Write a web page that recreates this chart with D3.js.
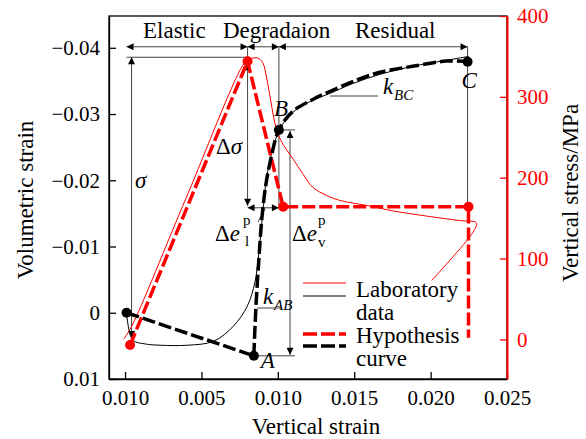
<!DOCTYPE html>
<html>
<head>
<meta charset="utf-8">
<script src="https://cdn.jsdelivr.net/npm/d3@7"></script>
<style>
  body { margin: 0; background: #fff; }
</style>
</head>
<body>
<div id="container"></div>
<script>
// tick values and labels (the first strain label is printed as 0.010 in the original)
const strainTicks = [0, 0.005, 0.010, 0.015, 0.020, 0.025];
const strainTickLabels = ["0.010", "0.005", "0.010", "0.015", "0.020", "0.025"];
const volTicks = [-0.04, -0.03, -0.02, -0.01, 0, 0.01];
const volTickLabels = ["\u22120.04", "\u22120.03", "\u22120.02", "\u22120.01", "0", "0.01"];
const stressTicks = [0, 100, 200, 300, 400];
const phaseNames = ["Elastic", "Degradaion", "Residual"];

// hypothesis curve, volumetric strain (start, A, ..., B, ..., C)
const hypVolStrain = [0.0001, 0.00843, 0.00856, 0.00876, 0.00895, 0.00922, 0.00954, 0.01007,
  0.01098, 0.01229, 0.0134, 0.0149, 0.01667, 0.01882, 0.02105, 0.02242];
const hypVolValue = [0, 0.0065, -0.0006, -0.0081, -0.0141, -0.0194, -0.0232, -0.0276,
  -0.0304, -0.0322, -0.0334, -0.0349, -0.0363, -0.0372, -0.038, -0.0379];
const hypVolDots = [0, 1, 7, 15]; // start, A, B, C

// laboratory data, volumetric strain
const labVolStrain = [0.0001, 0.0005, 0.0013, 0.0023, 0.0041, 0.0058, 0.0071, 0.008, 0.0085,
  0.0088, 0.0091, 0.0093, 0.0101, 0.011, 0.0123, 0.0134, 0.0149, 0.0167, 0.0188, 0.021, 0.0225];
const labVolValue = [0, 0.0041, 0.0047, 0.0049, 0.0049, 0.0043, 0.002, -0.001, -0.0046,
  -0.01, -0.0171, -0.0209, -0.0276, -0.0303, -0.0321, -0.0331, -0.0346, -0.036, -0.0372, -0.0381, -0.0387];

// hypothesis curve, vertical stress
const hypStressStrain = [0.00033, 0.00802, 0.01035, 0.02248, 0.02248];
const hypStressValue = [-7, 344, 164, 164, 2];
const hypStressDots = [0, 1, 2, 3];

// laboratory data, vertical stress
const labStressStrain = [-0.0001, 0.0004, 0.0040, 0.00785, 0.00817, 0.00869, 0.00902, 0.00928, 0.00954, 0.0098,
  0.0102, 0.011, 0.01163, 0.01229, 0.0132, 0.01405, 0.016, 0.01752, 0.01993, 0.0219, 0.023, 0.02275, 0.02007];
const labStressValue = [0, 15, 175, 343, 347, 348, 342, 322, 295, 268,
  246, 223, 205, 188, 178, 172, 165, 159, 152, 147, 144, 132, 73];

const W = 586, H = 439;
const plot = {left: 109, right: 507, top: 16, bottom: 379};
const RED = "#ff0000";

const svg = d3.select("#container").append("svg")
  .attr("width", W).attr("height", H);

const defs = svg.append("defs");
defs.append("marker")
  .attr("id", "ah")
  .attr("viewBox", "0 0 10 10")
  .attr("refX", 10).attr("refY", 5)
  .attr("markerWidth", 9).attr("markerHeight", 7)
  .attr("markerUnits", "userSpaceOnUse")
  .attr("orient", "auto-start-reverse")
  .append("path").attr("d", "M0,0L10,5L0,10Z").attr("fill", "#000");

const x = d3.scaleLinear().domain([-0.00105, 0.025]).range([plot.left, plot.right]);
const yL = d3.scaleLinear().domain([0.01, -0.0448]).range([plot.bottom, plot.top]);
const yR = d3.scaleLinear().domain([-49, 400]).range([plot.bottom, plot.top]);

const zip = (a, b) => a.map((v, i) => [v, b[i]]);
const hypVol = zip(hypVolStrain, hypVolValue);
const labVol = zip(labVolStrain, labVolValue);
const hypStress = zip(hypStressStrain, hypStressValue);
const labStress = zip(labStressStrain, labStressValue);

// frame
svg.append("rect")
  .attr("x", plot.left).attr("y", plot.top)
  .attr("width", plot.right - plot.left).attr("height", plot.bottom - plot.top)
  .attr("fill", "none").attr("stroke", "#000").attr("stroke-width", 1.3);

// axes
const axL = svg.append("g").attr("transform", `translate(${plot.left},0)`)
  .call(d3.axisLeft(yL).tickValues(volTicks).tickFormat((d, i) => volTickLabels[i])
    .tickSizeInner(-7).tickSizeOuter(0).tickPadding(9));
const axB = svg.append("g").attr("transform", `translate(0,${plot.bottom})`)
  .call(d3.axisBottom(x).tickValues(strainTicks).tickFormat((d, i) => strainTickLabels[i])
    .tickSizeInner(-7).tickSizeOuter(0).tickPadding(11));
const axR = svg.append("g").attr("transform", `translate(${plot.right},0)`)
  .call(d3.axisRight(yR).tickValues(stressTicks)
    .tickSizeInner(-7).tickSizeOuter(0).tickPadding(10));

[axL, axB, axR].forEach(a => {
  a.selectAll("text").style("font-size", "21px").attr("fill", "#000");
  a.selectAll(".tick line").attr("stroke", "#000").attr("stroke-width", 1.3);
  a.select(".domain").attr("stroke", "#000").attr("stroke-width", 1.3);
});
axR.selectAll("text").attr("fill", RED);
axR.selectAll(".tick line").attr("stroke", RED);
axR.select(".domain").attr("stroke", RED).attr("stroke-width", 2);

// axis titles
svg.append("text").attr("transform", "translate(33,200) rotate(-90)")
  .attr("text-anchor", "middle").style("font-size", "23px").text("Volumetric strain");
svg.append("text").attr("x", 316).attr("y", 434)
  .attr("text-anchor", "middle").style("font-size", "23px").text("Vertical strain");
svg.append("text").attr("transform", "translate(578,193) rotate(-90)")
  .attr("text-anchor", "middle").style("font-size", "23px").text("Vertical stress/MPa");

// key points in pixels
const P0 = [x(hypVolStrain[0]), yL(hypVolValue[0])];
const PA = [x(hypVolStrain[1]), yL(hypVolValue[1])];
const PB = [x(hypVolStrain[7]), yL(hypVolValue[7])];
const PC = [x(hypVolStrain[15]), yL(hypVolValue[15])];
const S0 = [x(hypStressStrain[0]), yR(hypStressValue[0])];
const Speak = [x(hypStressStrain[1]), yR(hypStressValue[1])];
const Sres = [x(hypStressStrain[2]), yR(hypStressValue[2])];

// annotation helpers
const ann = svg.append("g");
function seg(x1, y1, x2, y2, start, end) {
  const l = ann.append("line").attr("x1", x1).attr("y1", y1).attr("x2", x2).attr("y2", y2)
    .attr("stroke", "#444").attr("stroke-width", 1);
  if (start) l.attr("marker-start", "url(#ah)");
  if (end) l.attr("marker-end", "url(#ah)");
  return l;
}
function label(px, py, main, size) {
  const t = ann.append("text").attr("x", px).attr("y", py).style("font-size", (size || 23) + "px");
  main.forEach(m => t.append("tspan").style("font-style", m.i ? "italic" : "normal").text(m.t));
  return t;
}
function small(px, py, s, italic) {
  return ann.append("text").attr("x", px).attr("y", py).style("font-size", "15px")
    .style("font-style", italic ? "italic" : "normal").text(s);
}

// phase arrows along the top
const yTop = yL(-0.04) - 1;
seg(P0[0], yTop, Speak[0], yTop, true, true);
seg(Speak[0], yTop, PB[0], yTop, true, true);
seg(PB[0], yTop, PC[0], yTop, true, true);
seg(Speak[0], yTop, Speak[0], Speak[1]);
seg(PB[0], yTop, PB[0], Sres[1]);
seg(PC[0], yTop, PC[0], Sres[1]);
ann.append("text").attr("x", 143).attr("y", 38).style("font-size", "23px").text(phaseNames[0]);
ann.append("text").attr("x", 223).attr("y", 38).style("font-size", "23px").text(phaseNames[1]);
ann.append("text").attr("x", 355).attr("y", 38).style("font-size", "23px").text(phaseNames[2]);

// sigma
seg(P0[0], Speak[1] - 4, Speak[0], Speak[1] - 4);
seg(P0[0] + 5, Speak[1] - 4, P0[0] + 5, S0[1] - 7, true, true);
label(135, 188, [{t: "\u03c3", i: true}]);

// delta sigma
seg(Speak[0], Speak[1] + 2, Speak[0], Sres[1] - 1, true, true);
label(216, 154, [{t: "\u0394"}, {t: "\u03c3", i: true}]);

// delta e_l^p
seg(Speak[0], Sres[1] + 1, PB[0], Sres[1] + 1, true, true);
seg(265, Sres[1] + 2, 258, 222);
label(215, 241, [{t: "\u0394"}, {t: "e", i: true}]);
small(243, 225, "p");
small(245, 246, "l");

// delta e_v^p
seg(PB[0], PB[1], PB[0] + 16, PB[1]);
seg(PA[0], PA[1], PA[0] + 41, PA[1]);
seg(290, PB[1] + 1, 290, PA[1] - 1, true, true);
label(292, 241, [{t: "\u0394"}, {t: "e", i: true}]);
small(318, 225, "p");
small(318, 247, "v");

// slopes
seg(257, 308, 281, 308);
label(263, 304, [{t: "k", i: true}]);
small(274, 310, "AB", true);
seg(330, 96, 378, 96);
label(383, 94, [{t: "k", i: true}]);
small(394, 100, "BC", true);

// point letters
label(PA[0] + 7, PA[1] + 12, [{t: "A", i: true}]);
label(PB[0] - 5, PB[1] - 14, [{t: "B", i: true}]);
label(PC[0] - 6, PC[1] + 26, [{t: "C", i: true}]);

// series
const lineVol = d3.line().x(d => x(d[0])).y(d => yL(d[1]));
const lineStress = d3.line().x(d => x(d[0])).y(d => yR(d[1]));
const lineVolSmooth = d3.line().x(d => x(d[0])).y(d => yL(d[1])).curve(d3.curveCatmullRom);
const lineStressSmooth = d3.line().x(d => x(d[0])).y(d => yR(d[1])).curve(d3.curveCatmullRom);

svg.append("path").datum(labStress).attr("d", lineStressSmooth)
  .attr("fill", "none").attr("stroke", RED).attr("stroke-width", 1);
svg.append("path").datum(labVol).attr("d", lineVolSmooth)
  .attr("fill", "none").attr("stroke", "#000").attr("stroke-width", 1);

svg.append("path").datum(hypStress).attr("d", lineStress)
  .attr("fill", "none").attr("stroke", RED).attr("stroke-width", 3.5)
  .attr("stroke-dasharray", "13,4");
// straight elastic part, then the smooth A-B-C part
svg.append("path").datum(hypVol.slice(0, 2)).attr("d", lineVol)
  .attr("fill", "none").attr("stroke", "#000").attr("stroke-width", 3.5)
  .attr("stroke-dasharray", "13,4");
svg.append("path").datum(hypVol.slice(1)).attr("d", lineVolSmooth)
  .attr("fill", "none").attr("stroke", "#000").attr("stroke-width", 3.5)
  .attr("stroke-dasharray", "13,4");

svg.selectAll("circle.sd").data(hypStressDots.map(i => hypStress[i])).join("circle")
  .attr("class", "sd").attr("cx", d => x(d[0])).attr("cy", d => yR(d[1])).attr("r", 5).attr("fill", RED);
svg.selectAll("circle.vd").data(hypVolDots.map(i => hypVol[i])).join("circle")
  .attr("class", "vd").attr("cx", d => x(d[0])).attr("cy", d => yL(d[1])).attr("r", 5).attr("fill", "#000");

// legend
const lg = svg.append("g");
const legItems = [
  {y: 283, c: RED, w: 1, dash: null},
  {y: 296, c: "#000", w: 1, dash: null},
  {y: 334, c: RED, w: 3.5, dash: "14,4"},
  {y: 346, c: "#000", w: 3.5, dash: "14,4"}
];
legItems.forEach(d => {
  lg.append("line").attr("x1", 303).attr("x2", 346).attr("y1", d.y).attr("y2", d.y)
    .attr("stroke", d.c).attr("stroke-width", d.w).attr("stroke-dasharray", d.dash);
});
[["Laboratory", 297], ["data", 320], ["Hypothesis", 343], ["curve", 366]].forEach(d => {
  lg.append("text").attr("x", 356).attr("y", d[1]).style("font-size", "23px").text(d[0]);
});

// serif font everywhere
svg.selectAll("text").style("font-family", '"Liberation Serif"');
</script>
</body>
</html>
